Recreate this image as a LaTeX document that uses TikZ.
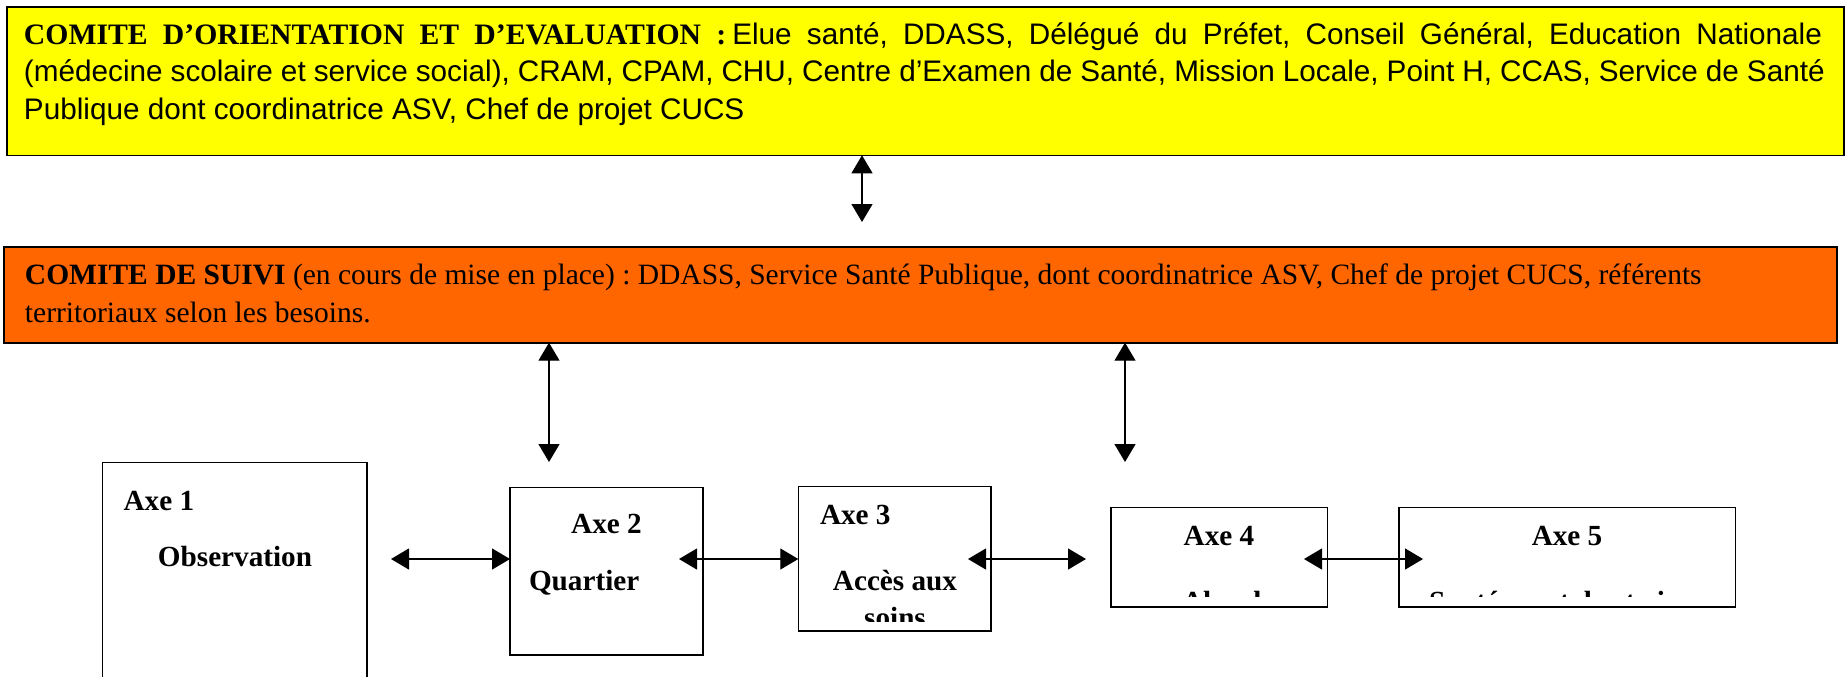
\documentclass[tikz,border=0pt]{standalone}
\usepackage{fontspec}
\setmainfont{Liberation Serif}
\newfontfamily\arialf{Liberation Sans}
\usetikzlibrary{arrows.meta,fit,calc}
\definecolor{comitejaune}{HTML}{FFFF00}
\definecolor{comiteorange}{HTML}{FF6600}
\frenchspacing
% a justified line: every interword space gets the same extra width
\newcommand{\fullline}[2]{\makebox[#1][s]{\spaceskip=0.27em plus 1fil\relax #2}}

\begin{document}
\begin{tikzpicture}[x=0.5pt,y=-0.5pt,
  panel/.style={draw=black,line width=0.8pt,inner sep=0pt,outer sep=0pt},
  axebox/.style={draw=black,line width=0.65pt,inner sep=0pt,outer sep=0pt},
  txt/.style={inner sep=0pt,outer sep=0pt,anchor=base west},
  ctxt/.style={inner sep=0pt,outer sep=0pt,anchor=base},
  axefont/.style={font=\fontsize{14.6pt}{17pt}\selectfont\bfseries},
  link/.style={line width=0.65pt,{Triangle[length=9pt,width=10.5pt]}-{Triangle[length=9pt,width=10.5pt]}}
]
\clip (0,0) rectangle (1845,676);

% committees
\node[panel,fill=comitejaune,fit={(6.7,6.7)(1844,155.3)}] (orient) {};
\node[panel,fill=comiteorange,fit={(4,246.7)(1836.7,342.7)}] (suivi) {};

\node[txt,text width=899pt,align=left,font=\arialf\fontsize{14.85pt}{18.85pt}\selectfont] (orienttxt) at (24,44)
 {\spaceskip=0pt\relax
  \fullline{899pt}{{\rmfamily\bfseries COMITE D’ORIENTATION ET D’EVALUATION :}\hspace{3pt}Elue santé, DDASS, Délégué du Préfet, Conseil Général, Education Nationale}\\
  \fullline{899pt}{(médecine scolaire et service social), CRAM, CPAM, CHU, Centre d’Examen de Santé, Mission Locale, Point H, CCAS, Service de Santé}\\
  Publique dont coordinatrice ASV, Chef de projet CUCS};

\node[txt,text width=905pt,align=left,font=\fontsize{14.75pt}{19.35pt}\selectfont] (suivitxt) at (25,284)
 {\spaceskip=0pt\relax
  \textbf{COMITE DE SUIVI} (en cours de mise en place) : DDASS, Service Santé Publique, dont coordinatrice ASV, Chef de projet CUCS, référents\\
  territoriaux selon les besoins.};

% axes
\node[axebox,fit={(102.7,462.7)(367,700)}] (ax1) {};
\node[axebox,fit={(510,487.3)(703,655)}] (ax2) {};
\node[axebox,fit={(798.3,486.7)(991,631)}] (ax3) {};
\node[axebox,fit={(1111,507.7)(1327.3,607)}] (ax4) {};
\node[axebox,fit={(1399,507.7)(1735.5,607)}] (ax5) {};

\node[txt,axefont] (ax1a) at (123.6,510) {Axe 1};
\node[ctxt,axefont] (ax1b) at (235,566.7) {Observation};
\node[ctxt,axefont] (ax2a) at (606.5,533.3) {Axe 2};
\node[txt,axefont] (ax2b) at (529,590) {Quartier};
\node[txt,axefont] (ax3a) at (820,524.3) {Axe 3};
\node[ctxt,axefont] (ax3b) at (895,590) {Accès aux};
\node[ctxt,axefont] (ax4a) at (1219,545.7) {Axe 4};
\node[ctxt,axefont] (ax5a) at (1567,545.7) {Axe 5};

% second lines cut off by the frame's inner margin
\begin{scope}
  \clip ($(ax3.north west)+(1,1)$) rectangle ($(ax3.south east)+(-1,-9.5)$);
  \node[ctxt,axefont] (ax3c) at (895,627.5) {soins};
\end{scope}
\begin{scope}
  \clip ($(ax4.north west)+(1,1)$) rectangle ($(ax4.south east)+(-1,-10.3)$);
  \node[txt,axefont] (ax4b) at (1182,611.7) {Alcool};
\end{scope}
\begin{scope}
  \clip ($(ax5.north west)+(1,1)$) rectangle ($(ax5.south east)+(-1,-10.3)$);
  \node[txt,axefont] (ax5b) at (1429,611.7) {Santé mentale et vie};
\end{scope}

% connectors
\coordinate (v1) at (862,222);
\coordinate (v2) at (549,462);
\coordinate (v3) at (1125,462);
\draw[link] (v1 |- orient.south) -- (v1);
\draw[link] (v2 |- suivi.south) -- (v2);
\draw[link] (v3 |- suivi.south) -- (v3);

\coordinate (h1) at (391,559);
\coordinate (h2) at (679,559);
\coordinate (h3) at (968,559);
\coordinate (h3e) at (1086,559);
\coordinate (h4) at (1304,559);
\coordinate (h4e) at (1423,559);
\draw[link] (h1) -- (h1 -| ax2.west);
\draw[link] (h2) -- (h2 -| ax3.west);
\draw[link] (h3) -- (h3e);
\draw[link] (h4) -- (h4e);
\end{tikzpicture}
\end{document}
